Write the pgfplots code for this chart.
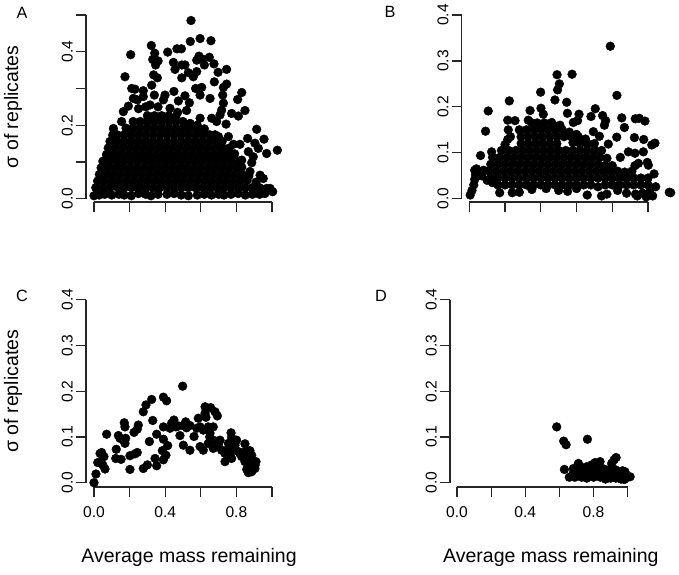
\documentclass[border=0pt]{standalone}
\usepackage{pgfplots}
\pgfplotsset{compat=1.18}
\usepackage{fontspec}
\setmainfont{Liberation Sans}
\pgfplotsset{pts/.style={only marks, mark=*, mark size=4.4pt, mark options={draw=black,fill=black}, black}}
\pgfplotsset{rpanel/.style={
  scale only axis, clip=false, axis lines=left,
  axis line style={-,line width=1.2pt,black!85},
  every tick/.style={line width=1.2pt,black!85},
  tick align=outside, major tick length=10pt,
  xmin=0,xmax=1,ymin=0,
  xtick={0,0.2,0.4,0.6,0.8,1},
  xticklabels={},
  tick label style={font=\fontsize{15.6}{16}\selectfont},
  yticklabel style={rotate=90,anchor=south,inner sep=3pt},
  xticklabel style={anchor=north,inner sep=3pt,yshift=-6pt},
  label style={font=\fontsize{19.5}{21}\selectfont},
  ylabel style={rotate=0,anchor=center},
}}
\begin{document}
\begin{tikzpicture}
\path[use as bounding box] (0,0) rectangle (679pt,574pt);
% A
\begin{axis}[rpanel, at={(94pt,375.3pt)}, anchor=south west, width=178pt, height=183.7pt,
  axis x line shift=3.3pt, axis y line shift=8pt,
  ymax=0.5, ytick={0,0.1,0.2,0.3,0.4,0.5}, yticklabels={0.0,,0.2,,0.4,},
  ylabel={σ of replicates}, ylabel style={at={(axis description cs:-0.455,0.5)}}]
\addplot[pts] coordinates {
(.545,.485)(.541,.428)(.596,.436)(.657,.430)(.322,.417)(.206,.392)(.414,.399)(.466,.408)(.491,.408)(.341,.396)
(.330,.379)(.360,.375)(.346,.364)(.446,.371)(.455,.352)(.493,.364)(.511,.364)(.590,.388)(.577,.377)(.614,.379)
(.648,.385)(.620,.364)(.674,.367)(.697,.344)(.745,.352)(.174,.332)(.335,.337)(.356,.329)(.493,.329)(.530,.343)
(.577,.346)(.558,.332)(.676,.318)(.745,.312)(.727,.303)(.324,.309)(.212,.300)(.230,.298)(.277,.294)(.449,.292)
(.571,.300)(.605,.303)(.830,.289)(.807,.270)(.723,.282)(.596,.282)(.652,.273)(.339,.282)(.399,.282)(.390,.269)
(.511,.280)(.474,.266)(.536,.261)(.221,.273)(.243,.269)(.277,.278)(.193,.252)(.165,.237)(.315,.255)(.427,.246)
(.727,.260)(.717,.241)(.848,.240)(.773,.232)(.811,.225)(.708,.228)(.596,.219)(.661,.219)(.689,.210)(.742,.203)
(.155,.210)(.109,.191)(.105,.173)(.914,.189)(.699,.169)(.755,.169)(.863,.164)(.955,.162)(1.030,.132)(.904,.151)
(.820,.148)(.783,.148)(.867,.128)(.923,.137)(.970,.123)(.895,.114)(.886,.098)(.830,.105)(.876,.074)(.933,.064)
(.951,.055)(.989,.028)(1.004,.019)(.25,.245)(.29,.25)(.36,.25)(.47,.235)(.52,.24)
% dense lower mass
(0,.008)(.03,.01)(.06,.012)(.1,.01)(.14,.012)(.17,.01)(.21,.008)(.25,.014)(.29,.012)(.32,.008)(.36,.012)(.41,.012)(.45,.014)(.49,.01)(.53,.008)(.58,.01)(.62,.012)(.66,.01)(.7,.012)(.73,.01)(.77,.012)(.81,.014)(.85,.01)(.89,.012)(.93,.012)(.96,.014)
(.01,.03)(.05,.03)(.09,.03)(.13,.032)(.17,.03)(.21,.03)(.25,.03)(.29,.03)(.33,.03)(.37,.03)(.41,.03)(.45,.03)(.49,.03)(.53,.03)(.57,.03)(.61,.03)(.65,.03)(.69,.03)(.73,.03)(.77,.03)(.81,.03)(.85,.03)(.89,.03)(.93,.03)(.97,.028)
(.02,.048)(.06,.048)(.1,.048)(.14,.048)(.18,.048)(.22,.048)(.26,.048)(.3,.048)(.34,.048)(.38,.048)(.42,.048)(.46,.048)(.5,.048)(.54,.048)(.58,.048)(.62,.048)(.66,.048)(.7,.048)(.74,.048)(.78,.048)(.82,.048)(.86,.05)(.91,.045)
(.03,.066)(.07,.066)(.11,.066)(.15,.066)(.19,.066)(.23,.066)(.27,.066)(.31,.066)(.35,.066)(.39,.066)(.43,.066)(.47,.066)(.51,.066)(.55,.066)(.59,.066)(.63,.066)(.67,.066)(.71,.066)(.75,.066)(.79,.066)(.83,.066)(.87,.062)
(.04,.084)(.08,.084)(.12,.084)(.16,.084)(.2,.084)(.24,.084)(.28,.084)(.32,.084)(.36,.084)(.4,.084)(.44,.084)(.48,.084)(.52,.084)(.56,.084)(.6,.084)(.64,.084)(.68,.084)(.72,.084)(.76,.084)(.8,.084)(.83,.086)
(.05,.102)(.09,.102)(.13,.102)(.17,.102)(.21,.102)(.25,.102)(.29,.102)(.33,.102)(.37,.102)(.41,.102)(.45,.102)(.49,.102)(.53,.102)(.57,.102)(.61,.102)(.65,.102)(.69,.102)(.73,.102)(.77,.102)(.81,.102)
(.07,.12)(.11,.12)(.15,.12)(.19,.12)(.23,.12)(.27,.12)(.31,.12)(.35,.12)(.39,.12)(.43,.12)(.47,.12)(.51,.12)(.55,.12)(.59,.12)(.63,.12)(.67,.12)(.71,.12)(.75,.12)(.79,.122)
(.08,.138)(.12,.138)(.16,.138)(.2,.138)(.24,.138)(.28,.138)(.32,.138)(.36,.138)(.4,.138)(.44,.138)(.48,.138)(.52,.138)(.56,.138)(.6,.138)(.64,.138)(.68,.138)(.72,.138)(.76,.138)
(.09,.156)(.13,.156)(.17,.156)(.21,.156)(.25,.156)(.29,.156)(.33,.156)(.37,.156)(.41,.156)(.45,.156)(.49,.156)(.53,.156)(.57,.156)(.61,.156)(.65,.156)(.69,.156)(.72,.156)
(.13,.174)(.17,.174)(.21,.174)(.25,.174)(.29,.174)(.33,.174)(.37,.174)(.41,.174)(.45,.174)(.49,.174)(.53,.174)(.57,.174)(.61,.174)(.65,.174)(.68,.174)
(.18,.192)(.22,.192)(.26,.192)(.3,.192)(.34,.192)(.38,.192)(.42,.192)(.46,.192)(.5,.192)(.54,.192)(.58,.192)(.62,.19)
(.22,.21)(.26,.21)(.3,.21)(.34,.21)(.38,.21)(.42,.21)(.46,.21)(.5,.21)(.54,.205)(.58,.2)
(.3,.226)(.34,.226)(.38,.226)(.42,.226)(.46,.222)
};
\end{axis}
\node[font=\fontsize{16.3}{17}\selectfont] at (22pt,561pt) {A};
% B
\begin{axis}[rpanel, at={(469.3pt,375.3pt)}, anchor=south west, width=178.7pt, height=183.7pt,
  axis x line shift=3.3pt, axis y line shift=7.6pt,
  ymax=0.4, ytick={0,0.1,0.2,0.3,0.4}, yticklabels={0.0,0.1,0.2,0.3,0.4}]
\addplot[pts] coordinates {
(.789,.332)(.826,.225)(.491,.270)(.575,.271)(.504,.250)(.494,.237)(.399,.232)(.479,.215)(.545,.210)(.224,.213)
(.106,.191)(.091,.147)(.401,.197)(.340,.192)(.549,.186)(.614,.184)(.414,.184)(.705,.196)(.681,.179)(.746,.181)
(.763,.170)(.756,.160)(.853,.176)(.929,.174)(.951,.175)(.983,.169)(.868,.155)(.825,.134)(.924,.133)(.976,.129)
(1.039,.121)(1.021,.117)(.778,.119)(.694,.146)(.728,.136)(.215,.171)(.256,.170)(.218,.150)(.215,.129)(.582,.166)
(.606,.170)(.330,.171)(.461,.166)(.507,.160)(.063,.094)(.125,.102)(.845,.090)(.890,.102)(.927,.099)(.974,.102)
(.996,.079)(1.002,.073)(.946,.077)(.927,.072)(1.034,.054)(1.043,.026)(1.119,.014)(1.127,.013)(1.026,.006)(.99,.004)(.94,.006)
% diagonal rise
(.005,.008)(.015,.018)(.025,.03)(.03,.042)(.035,.052)(.03,.062)(.04,.065)(.05,.05)(.08,.062)(.07,.05)(.1,.04)(.13,.035)
% dense lower mass
(.17,.013)(.24,.013)(.28,.014)(.35,.02)(.43,.022)(.5,.018)(.55,.016)(.6,.022)(.66,.008)(.74,.006)(.77,.01)(.83,.018)(.88,.012)(.93,.01)(.97,.012)(1.01,.014)
(.16,.03)(.2,.03)(.24,.03)(.28,.03)(.32,.03)(.36,.03)(.4,.03)(.44,.03)(.48,.03)(.52,.03)(.56,.03)(.6,.03)(.64,.03)(.68,.03)(.72,.026)(.76,.03)(.8,.03)(.84,.03)(.88,.03)(.92,.03)(.96,.03)(1.0,.03)
(.12,.045)(.16,.045)(.2,.045)(.24,.045)(.28,.045)(.32,.045)(.36,.045)(.4,.045)(.44,.045)(.48,.045)(.52,.045)(.56,.045)(.6,.045)(.64,.045)(.68,.045)(.72,.045)(.76,.045)(.8,.045)(.84,.045)(.88,.045)(.92,.045)(.96,.045)(1.0,.045)
(.11,.06)(.15,.06)(.19,.06)(.23,.06)(.27,.06)(.31,.06)(.35,.06)(.39,.06)(.43,.06)(.47,.06)(.51,.06)(.55,.06)(.59,.06)(.63,.06)(.67,.06)(.71,.06)(.75,.06)(.79,.06)(.83,.06)(.87,.058)(.91,.06)
(.12,.075)(.16,.075)(.2,.075)(.24,.075)(.28,.075)(.32,.075)(.36,.075)(.4,.075)(.44,.075)(.48,.075)(.52,.075)(.56,.075)(.6,.075)(.64,.075)(.68,.075)(.72,.075)(.76,.072)(.8,.072)
(.13,.09)(.17,.09)(.21,.09)(.25,.09)(.29,.09)(.33,.09)(.37,.09)(.41,.09)(.45,.09)(.49,.09)(.53,.09)(.57,.09)(.61,.09)(.65,.09)(.69,.09)(.73,.09)(.77,.088)
(.18,.105)(.22,.105)(.26,.105)(.3,.105)(.34,.105)(.38,.105)(.42,.105)(.46,.105)(.5,.105)(.54,.105)(.58,.105)(.62,.105)(.66,.105)(.7,.105)(.74,.105)
(.2,.118)(.29,.12)(.33,.12)(.37,.12)(.41,.12)(.45,.12)(.49,.12)(.58,.122)(.62,.12)(.66,.12)(.7,.12)
(.23,.135)(.29,.135)(.33,.135)(.37,.135)(.41,.135)(.45,.135)(.49,.135)(.53,.135)(.57,.135)(.61,.135)(.65,.13)
(.28,.15)(.32,.15)(.36,.15)(.4,.15)(.44,.15)(.48,.15)(.52,.15)(.56,.145)(.6,.14)
(.35,.165)(.38,.165)(.42,.165)(.47,.16)
};
\end{axis}
\node[font=\fontsize{16.3}{17}\selectfont] at (390pt,562pt) {B};
% C
\begin{axis}[rpanel, at={(94pt,91.3pt)}, anchor=south west, width=178pt, height=183pt,
  axis x line shift=4.3pt, axis y line shift=8pt,
  ymax=0.4, ytick={0,0.1,0.2,0.3,0.4}, yticklabels={0.0,0.1,0.2,0.3,0.4},
  xticklabels={0.0,,0.4,,0.8,},
  ylabel={σ of replicates}, ylabel style={at={(axis description cs:-0.455,0.5)}},
  xlabel={Average mass remaining}, xlabel style={at={(axis description cs:0.534,-0.411)},anchor=center}]
\addplot[pts] coordinates {
(0,0)(.011,.019)(.021,.044)(.034,.064)(.043,.066)(.056,.057)(.034,.046)(.049,.039)(.062,.030)(.071,.106)
(.125,.073)(.122,.053)(.152,.051)(.137,.103)(.170,.131)(.174,.122)(.165,.093)(.174,.086)(.146,.097)(.178,.097)
(.202,.029)(.202,.059)(.243,.066)(.230,.063)(.225,.110)(.249,.126)(.243,.117)(.277,.155)(.292,.170)(.324,.182)
(.330,.136)(.277,.031)(.300,.039)(.311,.090)(.343,.053)(.352,.037)(.352,.106)(.390,.187)(.408,.179)(.390,.122)
(.390,.095)(.414,.081)(.384,.070)(.404,.060)(.390,.050)(.436,.130)(.427,.119)(.449,.137)(.474,.124)(.498,.211)
(.483,.103)(.502,.082)(.515,.133)(.539,.071)(.562,.101)(.539,.125)(.577,.119)(.586,.141)(.596,.079)(.614,.071)
(.624,.166)(.655,.164)(.680,.155)(.693,.146)(.629,.143)(.624,.152)(.670,.122)(.614,.115)(.642,.086)(.670,.075)
(.652,.108)(.708,.093)(.736,.046)(.770,.109)(.773,.099)(.801,.093)(.848,.085)(.876,.070)(.745,.071)(.764,.060)
(.783,.071)(.811,.068)(.830,.057)(.848,.068)(.867,.053)(.886,.060)(.910,.046)(.904,.031)(.886,.024)(.867,.022)
(.858,.029)(.876,.035)(.895,.042)(.792,.082)(.820,.064)(.848,.046)(.773,.053)(.736,.064)(.717,.071)(.699,.082)
(.755,.086)(.670,.093)(.596,.122)(.642,.122)(.460,.122)(.500,.125)(.520,.120)(.650,.100)(.890,.028)(.905,.038)
};
\end{axis}
\node[font=\fontsize{16.3}{17}\selectfont] at (22pt,278pt) {C};
% D
\begin{axis}[rpanel, at={(457pt,91.3pt)}, anchor=south west, width=170.7pt, height=183pt,
  axis x line shift=4.3pt, axis y line shift=7pt,
  ymax=0.4, ytick={0,0.1,0.2,0.3,0.4}, yticklabels={0.0,0.1,0.2,0.3,0.4},
  xticklabels={0.0,,0.4,,0.8,},
  xlabel={Average mass remaining}, xlabel style={at={(axis description cs:0.55,-0.411)},anchor=center}]
\addplot[pts] coordinates {
(.584,.122)(.625,.091)(.639,.083)(.764,.095)(.629,.029)(.932,.055)(.711,.042)(.838,.046)(.809,.044)(.789,.039)
(.760,.035)(.721,.035)(.682,.031)(.906,.042)(.920,.050)(.984,.024)(1.014,.013)(.658,.012)
(.68,.02)(.71,.022)(.74,.018)(.77,.024)(.8,.02)(.83,.024)(.86,.018)(.89,.024)(.92,.022)(.95,.02)(.98,.018)(1.0,.012)
(.69,.012)(.73,.012)(.76,.01)(.8,.012)(.84,.012)(.87,.008)(.9,.01)(.93,.01)(.96,.008)(.98,.007)
(.7,.03)(.74,.03)(.78,.03)(.82,.03)(.86,.03)(.9,.03)(.93,.028)(.97,.026)
};
\end{axis}
\node[font=\fontsize{16.3}{17}\selectfont] at (381pt,278pt) {D};
\end{tikzpicture}
\end{document}
